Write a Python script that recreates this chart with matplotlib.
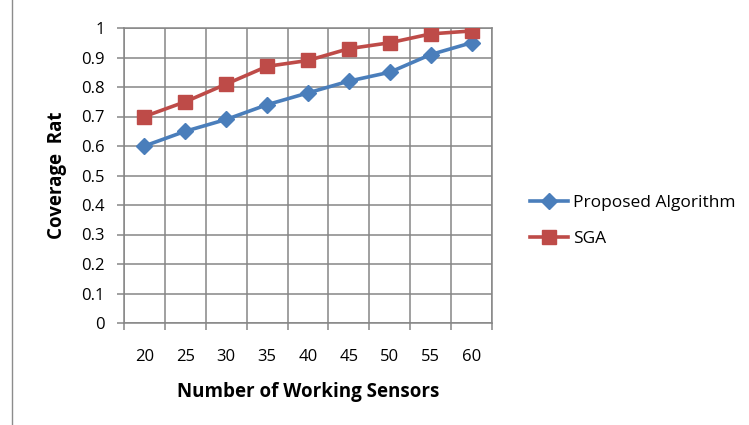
import numpy as np
import matplotlib.pyplot as plt
from matplotlib.lines import Line2D

sensors = ['20', '25', '30', '35', '40', '45', '50', '55', '60']
proposed = [0.60, 0.65, 0.69, 0.74, 0.78, 0.82, 0.85, 0.91, 0.95]
sga = [0.70, 0.75, 0.81, 0.87, 0.89, 0.93, 0.95, 0.98, 0.99]
yticks = [0, 0.1, 0.2, 0.3, 0.4, 0.5, 0.6, 0.7, 0.8, 0.9, 1]
ytick_labels = ['0', '0.1', '0.2', '0.3', '0.4', '0.5', '0.6', '0.7', '0.8', '0.9', '1']

plt.rcParams['font.family'] = ['Open Sans', 'DejaVu Sans']

W, H = 749, 425
fig = plt.figure(figsize=(W / 100, H / 100), dpi=100)
ax = fig.add_axes([124 / W, 1 - 323 / H, (492 - 124) / W, (323 - 28) / H])

grid_c = '#868686'
blue = '#4A7EBB'
red = '#BE4B48'

x = np.arange(len(sensors))
ax.plot(x, proposed, color=blue, lw=2.6, marker='D', ms=8, mfc=blue, mec=blue,
        label='Proposed Algorithm', zorder=3)
ax.plot(x, sga, color=red, lw=2.6, marker='s', ms=9.5, mfc=red, mec=red,
        label='SGA', zorder=3)

ax.set_xlim(-0.5, len(sensors) - 0.5)
ax.set_ylim(0, 1)
ax.set_yticks(yticks)
ax.set_yticklabels(ytick_labels)
ax.set_xticks(x)
ax.set_xticklabels(sensors)
ax.set_xticks(np.arange(-0.5, len(sensors)), minor=True)

ax.grid(True, axis='y', color=grid_c, lw=1.1)
ax.grid(True, axis='x', which='minor', color=grid_c, lw=1.1)
ax.set_axisbelow(True)

ax.tick_params(axis='x', which='major', length=0, pad=19, labelsize=12)
ax.tick_params(axis='x', which='minor', length=5, color=grid_c, width=1.1, direction='out')
ax.tick_params(axis='y', length=5, color=grid_c, width=1.1, pad=9, labelsize=12)

for s in ax.spines.values():
    s.set_color(grid_c)
    s.set_linewidth(1.1)

ax.set_xlabel('Number of Working Sensors', fontsize=13.5, fontweight='bold', labelpad=12)
ax.set_ylabel('Coverage  Rat', fontsize=13.5, fontweight='bold', labelpad=10)

ax.legend(loc='center left', bbox_to_anchor=(1.06, 0.345), frameon=False,
          fontsize=12.5, handlelength=2.2, handletextpad=0.3, labelspacing=1.15)

fig.add_artist(Line2D([12 / W, 12 / W], [0, 1], color='#8c8c8c', lw=1))

fig.savefig('out.png', dpi=100)
